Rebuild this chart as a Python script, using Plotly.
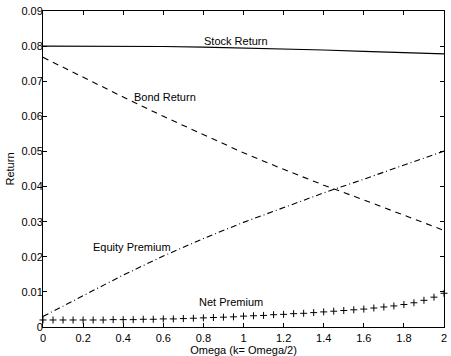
import plotly.graph_objects as go

# Omega grid for the smooth curves
omega = [0.0, 0.2, 0.4, 0.6, 0.8, 1.0, 1.2, 1.4, 1.6, 1.8, 2.0]
stock_return = [0.0800, 0.0800, 0.0800, 0.0799, 0.0797, 0.0795, 0.0792, 0.0789, 0.0785, 0.0781, 0.0778]
bond_return = [0.0768, 0.0711, 0.0655, 0.0600, 0.0547, 0.0496, 0.0449, 0.0404, 0.0362, 0.0319, 0.0275]
equity_premium = [0.0030, 0.0090, 0.0148, 0.0202, 0.0252, 0.0298, 0.0340, 0.0382, 0.0421, 0.0461, 0.0501]

# Net premium sampled on a finer omega grid (step 0.05)
omega_fine = [0.00, 0.05, 0.10, 0.15, 0.20, 0.25, 0.30, 0.35, 0.40, 0.45,
              0.50, 0.55, 0.60, 0.65, 0.70, 0.75, 0.80, 0.85, 0.90, 0.95,
              1.00, 1.05, 1.10, 1.15, 1.20, 1.25, 1.30, 1.35, 1.40, 1.45,
              1.50, 1.55, 1.60, 1.65, 1.70, 1.75, 1.80, 1.85, 1.90, 1.95, 2.00]
net_premium = [0.0020, 0.0020, 0.0020, 0.0020, 0.0020, 0.0020, 0.0020, 0.0021, 0.0021, 0.0021,
               0.0022, 0.0022, 0.0023, 0.0023, 0.0024, 0.0025, 0.0026, 0.0027, 0.0028, 0.0029,
               0.0031, 0.0032, 0.0033, 0.0035, 0.0036, 0.0038, 0.0039, 0.0041, 0.0043, 0.0045,
               0.0047, 0.0049, 0.0051, 0.0054, 0.0057, 0.0060, 0.0064, 0.0069, 0.0076, 0.0085, 0.0096]

x_ticks = [0, 0.2, 0.4, 0.6, 0.8, 1, 1.2, 1.4, 1.6, 1.8, 2]
x_tick_text = ["0", "0.2", "0.4", "0.6", "0.8", "1", "1.2", "1.4", "1.6", "1.8", "2"]
y_ticks = [0, 0.01, 0.02, 0.03, 0.04, 0.05, 0.06, 0.07, 0.08, 0.09]
y_tick_text = ["0", "0.01", "0.02", "0.03", "0.04", "0.05", "0.06", "0.07", "0.08", "0.09"]

# Curve labels: (text, omega, return)
labels = [
    ("Stock Return", 0.965, 0.0815),
    ("Bond Return", 0.61, 0.0656),
    ("Equity Premium", 0.445, 0.0227),
    ("Net Premium", 0.937, 0.0071),
]

FONT = "Liberation Sans, Arial, Helvetica, sans-serif"

fig = go.Figure()
fig.add_trace(go.Scatter(x=omega, y=stock_return, mode="lines",
                         line=dict(color="black", width=1.1)))
fig.add_trace(go.Scatter(x=omega, y=bond_return, mode="lines",
                         line=dict(color="black", width=1.1, dash="6px,5px")))
fig.add_trace(go.Scatter(x=omega, y=equity_premium, mode="lines",
                         line=dict(color="black", width=1.1, dash="6px,3px,1px,3px")))
fig.add_trace(go.Scatter(x=omega_fine, y=net_premium, mode="markers",
                         marker=dict(symbol="cross-thin", size=5,
                                     line=dict(color="black", width=1)),
                         cliponaxis=False))

for text, xv, yv in labels:
    fig.add_annotation(x=xv, y=yv, text=text, showarrow=False,
                       font=dict(family=FONT, size=11, color="black"))

axis_common = dict(
    showline=True, linecolor="black", linewidth=1, mirror="ticks",
    ticks="inside", ticklen=4, tickcolor="black", tickwidth=1,
    showgrid=False, zeroline=False,
    tickfont=dict(family=FONT, size=11, color="black"),
)

fig.update_layout(
    width=451, height=356,
    margin=dict(l=43, r=4, t=11, b=27),
    paper_bgcolor="white", plot_bgcolor="white",
    showlegend=False,
    xaxis=dict(range=[0, 2], tickvals=x_ticks, ticktext=x_tick_text,
               ticklabelstandoff=1,
               title=dict(text="Omega (k= Omega/2)", standoff=0,
                          font=dict(family=FONT, size=11, color="black")),
               **axis_common),
    yaxis=dict(range=[0, 0.09], tickvals=y_ticks, ticktext=y_tick_text,
               ticklabelstandoff=-3,
               title=dict(text="Return", standoff=4,
                          font=dict(family=FONT, size=11, color="black")),
               **axis_common),
)

fig.write_html("out.html")
